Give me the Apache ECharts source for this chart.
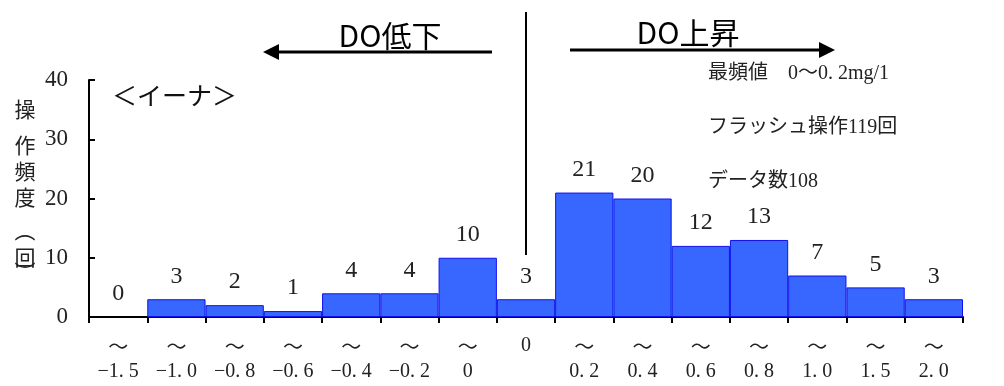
<!DOCTYPE html>
<html>
<head>
<meta charset="utf-8">
<script src="https://cdn.jsdelivr.net/npm/echarts@6/dist/echarts.min.js"></script>
<style>
  html, body { margin: 0; padding: 0; background: #fff; }
  #chart { width: 1004px; height: 386px; }
</style>
</head>
<body>
<div id="chart"></div>
<script>
// DO change classes (mg/l) and flush-operation counts per class
const classLabels = [
  '～\n−1. 5', '～\n−1. 0', '～\n−0. 8', '～\n−0. 6', '～\n−0. 4', '～\n−0. 2', '～\n0',
  '0',
  '～\n0. 2', '～\n0. 4', '～\n0. 6', '～\n0. 8', '～\n1. 0', '～\n1. 5', '～\n2. 0'
];
const counts = [0, 3, 2, 1, 4, 4, 10, 3, 21, 20, 12, 13, 7, 5, 3];
const yTicks = { min: 0, max: 40, interval: 10 };
const yTitleChars = ['操', '作', '頻', '度', '（', '回', '）'];
const notes = ['最頻値　0～0. 2mg/1', 'フラッシュ操作119回', 'データ数108'];

const SERIF = '"Liberation Serif", "DejaVu Serif", "Noto Sans CJK JP", serif';
const SANS = '"Noto Sans CJK JP", "Noto Sans", sans-serif';

const chart = echarts.init(document.getElementById('chart'), null, { renderer: 'canvas' });

const graphics = [
  // centre divider
  { type: 'line', shape: { x1: 526, y1: 12, x2: 526, y2: 255 }, style: { stroke: '#000', lineWidth: 2 } },
  // DO decrease arrow (pointing left)
  { type: 'line', shape: { x1: 275, y1: 52, x2: 492, y2: 52 }, style: { stroke: '#000', lineWidth: 3 } },
  { type: 'polygon', shape: { points: [[263, 52], [279, 44], [279, 60]] }, style: { fill: '#000' } },
  { type: 'text', x: 390, y: 36, style: { text: 'DO低下', font: '30px ' + SANS, fill: '#000', align: 'center', verticalAlign: 'middle' } },
  // DO increase arrow (pointing right)
  { type: 'line', shape: { x1: 570, y1: 50, x2: 822, y2: 50 }, style: { stroke: '#000', lineWidth: 3 } },
  { type: 'polygon', shape: { points: [[835, 50], [819, 42], [819, 58]] }, style: { fill: '#000' } },
  { type: 'text', x: 688, y: 33, style: { text: 'DO上昇', font: '30px ' + SANS, fill: '#000', align: 'center', verticalAlign: 'middle' } },
  // site name
  { type: 'text', x: 112, y: 95, style: { text: '＜イーナ＞', font: '25px ' + SANS, fill: '#111', verticalAlign: 'middle' } }
];

// y-axis title, written top to bottom; brackets turned for vertical writing
const yTitleY = [109, 145, 171, 197, 231, 257, 272];
yTitleChars.forEach((ch, i) => {
  const isBracket = ch === '（' || ch === '）';
  graphics.push({
    type: 'text', x: 25, y: yTitleY[i], rotation: isBracket ? -Math.PI / 2 : 0,
    style: { text: ch, font: '21px ' + SANS, fill: '#222', align: 'center', verticalAlign: 'middle' }
  });
});

notes.forEach((t, i) => {
  graphics.push({ type: 'text', x: 708, y: 74 + i * 54, style: { text: t, font: '20px ' + SERIF, fill: '#222', verticalAlign: 'middle' } });
});

// each class label has two rows: the "～" row and the bound row
const labelRow = (row) => (v) => {
  const parts = v.split('\n');
  const s = parts.length === 2 ? parts[row] : (row === 0 ? parts[0] : '');
  if (!s) return '';
  return (s === '～' ? '{t|' : '{n|') + s + '}';
};
const labelRich = {
  t: { fontFamily: SANS, fontSize: 20, color: '#222' },
  n: { fontFamily: SERIF, fontSize: 20, color: '#222' }
};

chart.setOption({
  animation: false,
  backgroundColor: '#fff',
  grid: { left: 89, right: 41, top: 80, bottom: 69, containLabel: false },
  xAxis: [{
    type: 'category',
    data: classLabels,
    boundaryGap: true,
    axisLine: { lineStyle: { color: '#000', width: 2 } },
    axisTick: { show: true, alignWithLabel: false, inside: false, length: 6, lineStyle: { color: '#000', width: 2 } },
    axisLabel: { interval: 0, margin: 19, formatter: labelRow(0), rich: labelRich },
    splitLine: { show: false }
  }, {
    type: 'category',
    data: classLabels,
    position: 'bottom',
    boundaryGap: true,
    axisLine: { show: false },
    axisTick: { show: false },
    axisLabel: { interval: 0, margin: 45, formatter: labelRow(1), rich: labelRich },
    splitLine: { show: false }
  }],
  yAxis: {
    type: 'value',
    min: yTicks.min, max: yTicks.max, interval: yTicks.interval,
    axisLine: { show: true, lineStyle: { color: '#000', width: 2 } },
    axisTick: { show: true, inside: true, length: 6, lineStyle: { color: '#000', width: 2 } },
    axisLabel: { margin: 21, color: '#222', fontFamily: SERIF, fontSize: 23 },
    splitLine: { show: false }
  },
  series: [{
    type: 'bar',
    xAxisIndex: 0,
    data: counts.map(v => (v === 0 ? { value: v, itemStyle: { borderWidth: 0 } } : v)),
    barCategoryGap: '0%',
    itemStyle: { color: '#3867FF', borderColor: '#1010F0', borderWidth: 1 },
    label: {
      show: true, position: 'top', distance: 11,
      color: '#222', fontFamily: SERIF, fontSize: 24
    }
  }],
  graphic: graphics
});
</script>
</body>
</html>
